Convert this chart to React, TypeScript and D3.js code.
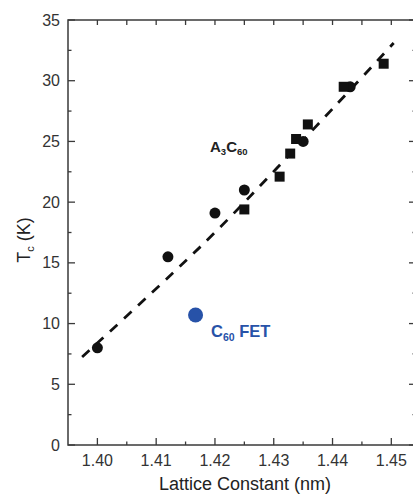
import React from "react";
import * as d3 from "d3";

const circleX = [1.4, 1.412, 1.42, 1.425, 1.435, 1.443];
const circleY = [8.0, 15.5, 19.1, 21.0, 25.0, 29.5];
const squareX = [1.425, 1.431, 1.4328, 1.4338, 1.4358, 1.4419, 1.4487];
const squareY = [19.4, 22.1, 24.0, 25.2, 26.4, 29.5, 31.4];
const fetX = [1.4167];
const fetY = [10.7];
const fitX = [1.3974, 1.4085, 1.4204, 1.4408, 1.4504];
const fitY = [7.25, 12.2, 17.7, 28.1, 33.1];
const xTicks = [1.4, 1.41, 1.42, 1.43, 1.44, 1.45];
const xMinor = [1.405, 1.415, 1.425, 1.435, 1.445];
const yTicks = [0, 5, 10, 15, 20, 25, 30, 35];
const yMinor = [2.5, 7.5, 12.5, 17.5, 22.5, 27.5, 32.5];

const W = 413;
const H = 495;
const L = 68, R = 416, T = 20, B = 445;
const AX = "#3a3a3a";
const FONT = "'Liberation Sans', Arial, sans-serif";
const BLUE = "#2752a8";

export default function App() {
  const x = d3.scaleLinear().domain([1.395, 1.4542]).range([L, R]);
  const y = d3.scaleLinear().domain([0, 35]).range([B, T]);
  const line = d3
    .line<number>()
    .x((_, i) => x(fitX[i]))
    .y((d) => y(d))
    .curve(d3.curveCatmullRom);
  const fitPath = line(fitY) || "";

  return (
    <svg
      width={W}
      height={H}
      style={{ position: "absolute", left: 0, top: 0, background: "#fff" }}
      fontFamily={FONT}
    >
      <rect x={0} y={0} width={W} height={H} fill="#fff" />
      <path d={fitPath} fill="none" stroke="#111" strokeWidth={2.8} strokeDasharray="10,9" />
      {circleX.map((cx, i) => (
        <circle key={"c" + i} cx={x(cx)} cy={y(circleY[i])} r={5.5} fill="#111" />
      ))}
      {squareX.map((sx, i) => (
        <rect key={"s" + i} x={x(sx) - 5} y={y(squareY[i]) - 5} width={10} height={10} fill="#111" />
      ))}
      {fetX.map((fx, i) => (
        <circle key={"f" + i} cx={x(fx)} cy={y(fetY[i])} r={7.5} fill={BLUE} />
      ))}
      <rect x={L} y={T} width={R - L} height={B - T} fill="none" stroke={AX} strokeWidth={1.5} />
      {xTicks.map((t) => (
        <g key={"xt" + t}>
          <line x1={x(t)} x2={x(t)} y1={B} y2={B - 7} stroke={AX} strokeWidth={1.3} />
          <line x1={x(t)} x2={x(t)} y1={T} y2={T + 5} stroke={AX} strokeWidth={1.3} />
          <text x={x(t)} y={466} textAnchor="middle" fontSize={16} fill="#333">
            {d3.format(".2f")(t)}
          </text>
        </g>
      ))}
      {xMinor.map((t) => (
        <g key={"xm" + t}>
          <line x1={x(t)} x2={x(t)} y1={B} y2={B - 3.5} stroke={AX} strokeWidth={1.3} />
          <line x1={x(t)} x2={x(t)} y1={T} y2={T + 5} stroke={AX} strokeWidth={1.3} />
        </g>
      ))}
      {yTicks.map((t) => (
        <g key={"yt" + t}>
          <line x1={L} x2={L + 7} y1={y(t)} y2={y(t)} stroke={AX} strokeWidth={1.3} />
          <line x1={R} x2={R - 7} y1={y(t)} y2={y(t)} stroke={AX} strokeWidth={1.3} />
          <text x={60} y={y(t) + 5.5} textAnchor="end" fontSize={16} fill="#333">
            {t}
          </text>
        </g>
      ))}
      {yMinor.map((t) => (
        <g key={"ym" + t}>
          <line x1={L} x2={L + 3.5} y1={y(t)} y2={y(t)} stroke={AX} strokeWidth={1.3} />
          <line x1={R} x2={R - 3.5} y1={y(t)} y2={y(t)} stroke={AX} strokeWidth={1.3} />
        </g>
      ))}
      <text x={245} y={490} textAnchor="middle" fontSize={18} fill="#222">
        Lattice Constant (nm)
      </text>
      <text
        transform={`translate(30, 240) rotate(-90)`}
        textAnchor="middle"
        fontSize={18}
        fill="#222"
      >
        T<tspan fontSize={11} dy={4}>c</tspan>
        <tspan dy={-4}> (K)</tspan>
      </text>
      <text x={210} y={152} fontSize={15} fontWeight="bold" fill="#222">
        A<tspan fontSize={9.5} dy={3}>3</tspan>
        <tspan dy={-3}>C</tspan>
        <tspan fontSize={9.5} dy={3}>60</tspan>
      </text>
      <text x={211} y={337} fontSize={16.5} fontWeight="bold" fill={BLUE}>
        C<tspan fontSize={10.5} dy={4}>60</tspan>
        <tspan dy={-4}> FET</tspan>
      </text>
    </svg>
  );
}
